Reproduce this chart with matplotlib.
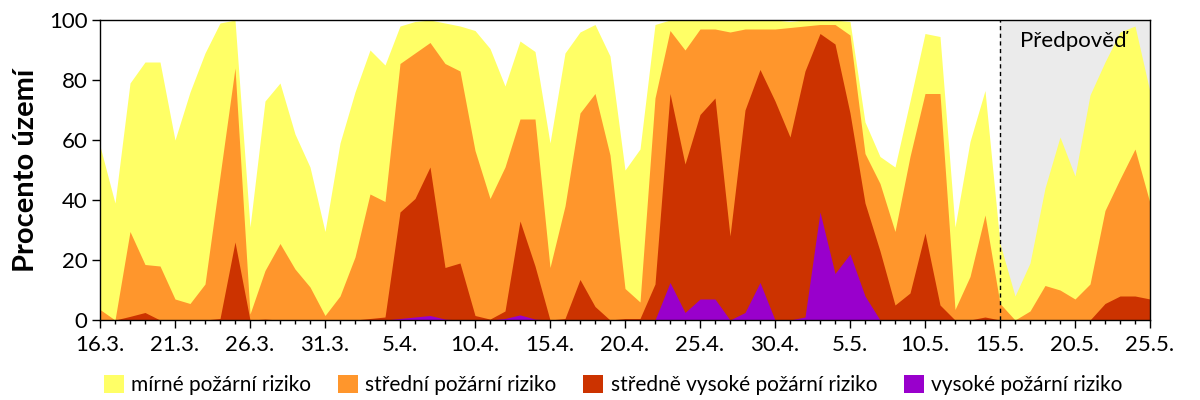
import numpy as np
import matplotlib.pyplot as plt
from matplotlib.patches import Patch
from matplotlib.ticker import MultipleLocator

plt.rcParams['font.family'] = ['Lato', 'DejaVu Sans']

# podil uzemi (%) s alespon danym stupnem rizika, den po dni 16.3. - 25.5.
mirne = [58, 39, 79, 86, 86, 60, 76, 89, 99, 100,
         31, 73, 79, 62, 51, 29.5, 59, 76, 90, 85,
         98, 99.5, 100, 99, 98, 96.5, 90.5, 78, 93, 89.5,
         59, 89, 96, 98.5, 88, 50, 57, 98.5, 100, 100,
         100, 100, 100, 100, 100, 100, 99.5, 100, 100, 100,
         99.5, 66, 54.5, 51, 73, 95.5, 94.5, 31, 59.5, 76.5,
         25.5, 8, 19, 44, 61, 48, 75, 86, 96, 98,
         76]
stredni = [3.5, 0, 29.5, 18.5, 18, 7, 5.5, 12, 48, 84,
           2, 16.5, 25.5, 17, 11, 1.5, 8, 21, 42, 39.5,
           85.5, 89, 92.5, 85.5, 83, 56.5, 40.5, 51, 67, 67,
           17.5, 38, 69, 75.5, 55, 10.5, 6, 74, 96.5, 90,
           97, 97, 96, 97, 97, 97, 97.5, 98, 98.5, 98.5,
           95, 55.5, 45.5, 29.5, 54.5, 75.5, 75.5, 3.5, 14.5, 35,
           5.5, 0, 3, 11.5, 10, 7, 12, 36.5, 47, 57,
           39]
stredne_vysoke = [0, 0, 1.2, 2.5, 0, 0, 0, 0, 0.5, 26,
                  0, 0.3, 0, 0, 0, 0, 0, 0, 0.5, 1,
                  36, 40.5, 51, 17.5, 19, 1.5, 0.3, 3, 33, 18,
                  0, 0.5, 13.5, 4.5, 0, 0.5, 0.5, 12, 75.5, 52,
                  68.5, 74, 28, 70, 83.5, 73, 61, 83, 95.5, 92,
                  69, 39, 23, 5, 9, 29, 5, 0, 0, 1,
                  0, 0, 0, 0, 0, 0, 0, 5.5, 8, 8,
                  7]
vysoke = [0, 0, 0, 0, 0, 0, 0, 0, 0, 0,
          0, 0, 0, 0, 0, 0, 0, 0, 0, 0,
          0.5, 1, 1.5, 0.3, 0, 0, 0, 0.5, 1.7, 0.3,
          0, 0, 0, 0, 0, 0, 0, 0, 12.5, 2.5,
          7, 7, 0, 2.5, 12.5, 0, 0, 1, 36, 15.5,
          22, 8, 0, 0, 0, 0, 0, 0, 0, 0,
          0, 0, 0, 0, 0, 0, 0, 0, 0, 0,
          0]

tick_labels = ['16.3.', '21.3.', '26.3.', '31.3.', '5.4.', '10.4.', '15.4.', '20.4.',
               '25.4.', '30.4.', '5.5.', '10.5.', '15.5.', '20.5.', '25.5.']
nazvy = ['mírné požární riziko', 'střední požární riziko',
         'středně vysoké požární riziko', 'vysoké požární riziko']
barvy = ['#FFFF66', '#FF962C', '#CC3300', '#9900CC']
zacatek_predpovedi = 60  # 15.5.

dny = np.arange(len(mirne))

fig = plt.figure(figsize=(12, 4), dpi=100)
ax = fig.add_axes([100/1200, 80/400, 1050/1200, 300/400])

ax.axvspan(zacatek_predpovedi, dny[-1], color='#EBEBEB', zorder=0, lw=0)
for serie, barva in zip([mirne, stredni, stredne_vysoke, vysoke], barvy):
    ax.fill_between(dny, 0, serie, color=barva, lw=0, zorder=1)
ax.axvline(zacatek_predpovedi, color='black', lw=1, ls=(0, (3, 2.5)), zorder=3)
ax.text(64.9, 93, 'Předpověď', ha='center', va='center', fontsize=16, zorder=4)

ax.set_xlim(0, dny[-1])
ax.set_ylim(0, 100)
ax.set_xticks(dny[::5])
ax.set_xticklabels(tick_labels)
ax.xaxis.set_minor_locator(MultipleLocator(1))
ax.set_yticks(range(0, 101, 20))
ax.tick_params(axis='both', which='major', direction='out', length=6, width=1, labelsize=16, pad=3)
ax.tick_params(axis='x', which='major', pad=5)
ax.tick_params(axis='x', which='minor', direction='out', length=3, width=1)
for s in ax.spines.values():
    s.set_linewidth(1)
ax.set_ylabel('Procento území', fontsize=21, fontweight='bold', labelpad=7)

handles = [Patch(facecolor=b, edgecolor='none') for b in barvy]
fig.legend(handles, nazvy, loc='center', bbox_to_anchor=(0.511, 0.038), ncol=4,
           frameon=False, fontsize=15, handlelength=0.95, handleheight=0.95,
           handletextpad=0.35, columnspacing=1.3)

fig.savefig('out.png', dpi=100)
